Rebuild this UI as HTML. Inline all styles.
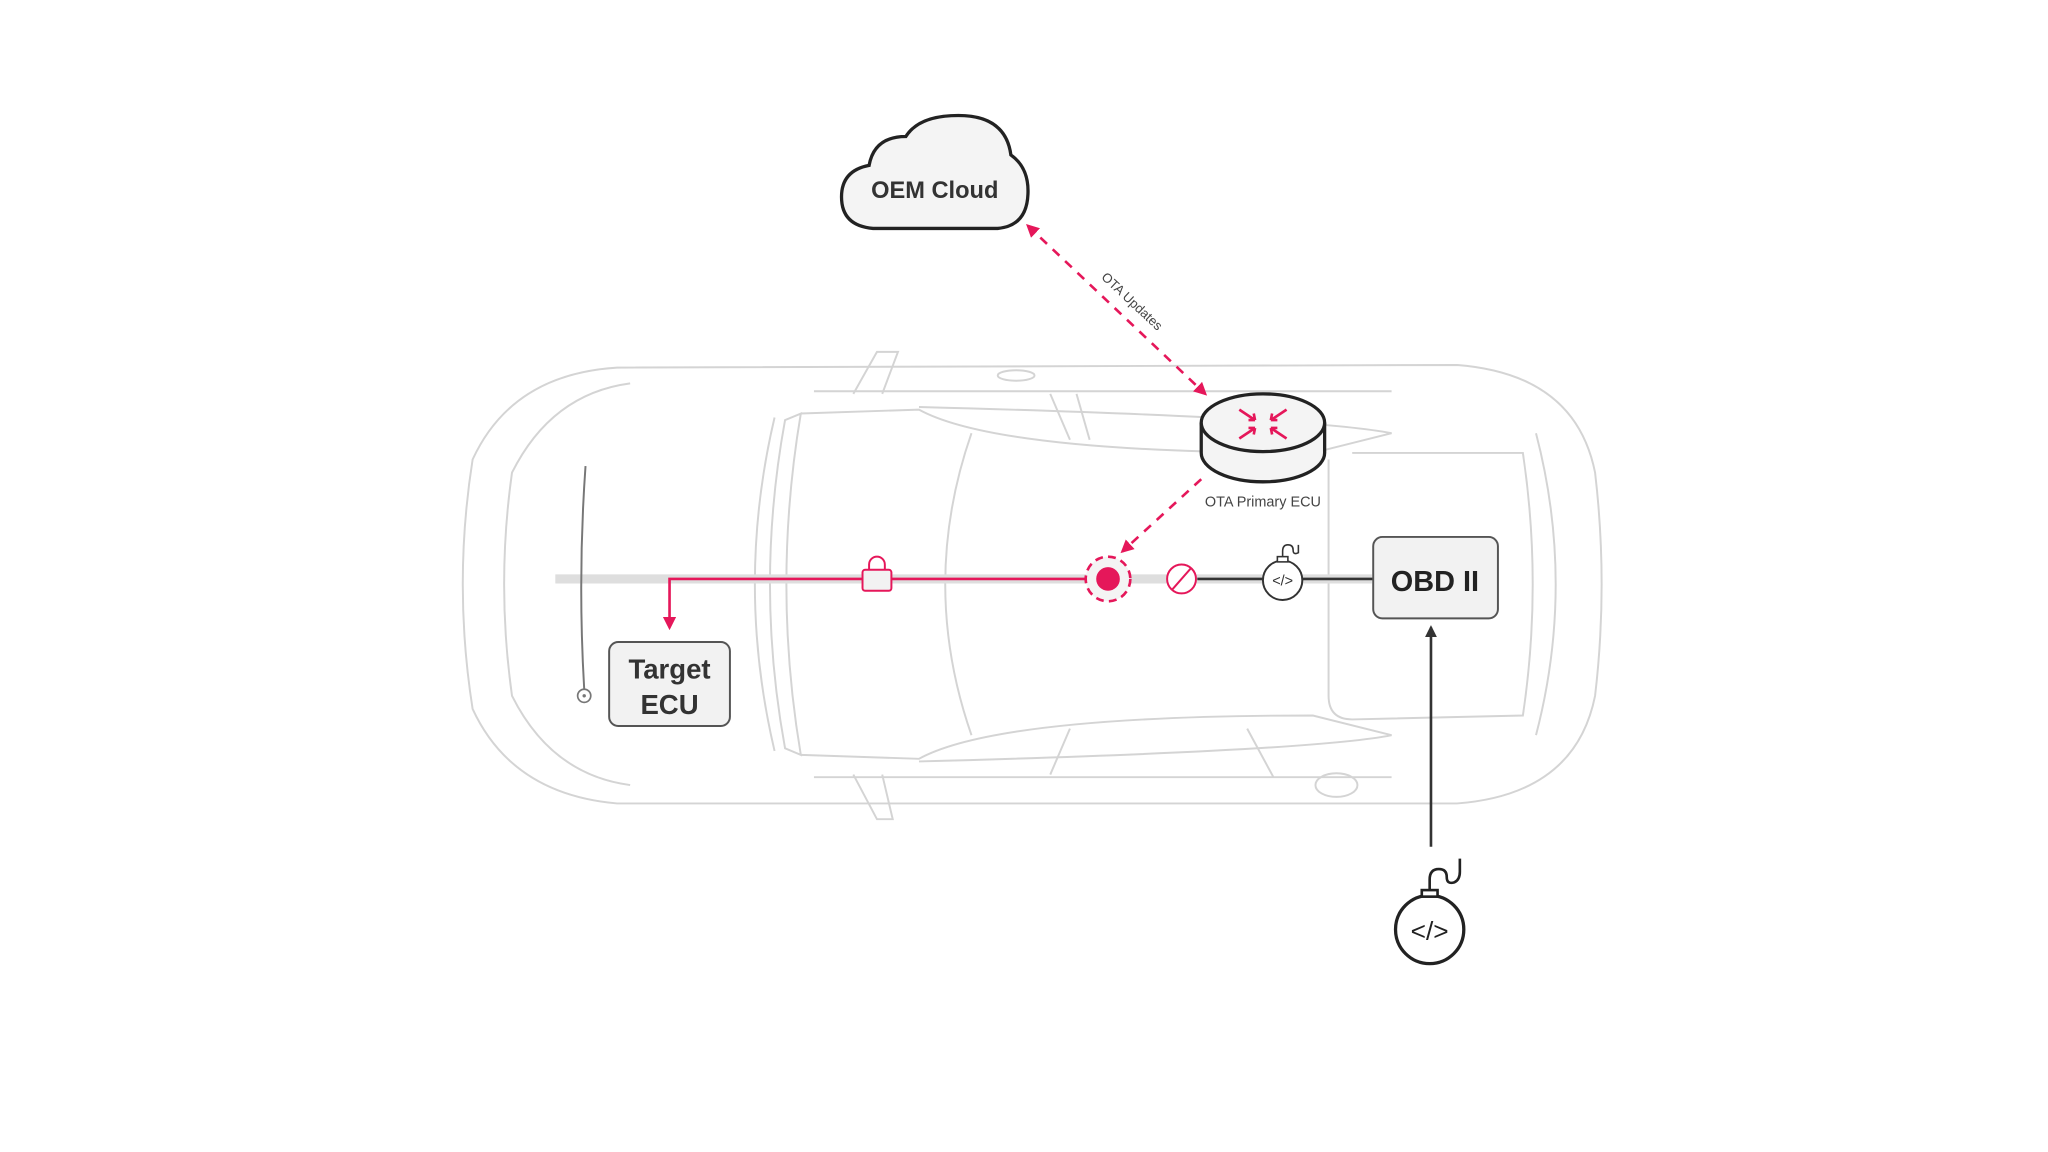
<!DOCTYPE html>
<html><head><meta charset="utf-8"><style>
html,body{margin:0;padding:0;background:#fff;}
svg{display:block;}
text{font-family:"Liberation Sans",sans-serif;}
</style></head><body>
<svg width="2048" height="1152" viewBox="0 0 1560 877.5" xmlns="http://www.w3.org/2000/svg">
<defs>
<marker id="ar" viewBox="0 0 10 10" refX="8" refY="5" markerWidth="5" markerHeight="5" orient="auto-start-reverse"><path d="M0,0L10,5L0,10z" fill="#e5175a"/></marker>
<marker id="ak" viewBox="0 0 10 10" refX="8" refY="5" markerWidth="4.5" markerHeight="4.5" orient="auto"><path d="M0,0L10,5L0,10z" fill="#333"/></marker>
</defs>
<rect width="1560" height="878" fill="#fff"/>
<g fill="none" stroke="#d4d4d4" stroke-width="1.5">
<path d="M470,280 L1110,278 Q1200,285 1215,360 Q1225,445 1215,530 Q1200,605 1110,612 L470,612 Q390,605 360,540 Q345,445 360,350 Q390,285 470,280Z"/>
<path d="M480,292 Q420,300 390,360 Q378,445 390,530 Q420,590 480,598"/>
<path d="M590,318 Q560,445 590,572"/>
<path d="M610,315 L700,312 Q760,345 1000,345 L1060,330 Q1000,318 700,310"/>
<path d="M610,575 L700,578 Q760,545 1000,545 L1060,560 Q1000,572 700,580"/>
<path d="M598,320 Q575,445 598,570 L610,575 Q588,445 610,315Z"/>
<path d="M740,330 Q700,445 740,560"/>
<path d="M1012,350 L1012,530 Q1012,548 1030,548 L1160,545 Q1175,445 1160,345 L1030,345"/>
<path d="M1170,330 Q1200,445 1170,560"/>
<path d="M620,298 L1060,298"/><path d="M620,592 L1060,592"/>
<path d="M650,300 L668,268 L684,268 L672,300"/>
<path d="M650,590 L668,624 L680,624 L672,590"/>
<path d="M760,286 a14,4 0 1,0 28,0 a14,4 0 1,0 -28,0"/>
<path d="M1002,598 a16,9 0 1,0 32,0 a16,9 0 1,0 -32,0"/>
<path d="M800,300 L815,335"/><path d="M820,300 L830,335"/>
<path d="M800,590 L815,555"/><path d="M950,555 L970,592"/>
</g>
<line x1="423" y1="441" x2="1045" y2="441" stroke="#dedede" stroke-width="7"/>
<polyline points="828,441 510,441 510,478" fill="none" stroke="#e5175a" stroke-width="2" marker-end="url(#ar)"/>
<line x1="912" y1="441" x2="1046" y2="441" stroke="#333" stroke-width="2"/>
<rect x="657" y="434" width="22" height="16" rx="2" fill="#f2f2f2" stroke="#e5175a" stroke-width="1.5"/>
<path d="M662,434 v-4 a6,6 0 0,1 12,0 v4" fill="none" stroke="#e5175a" stroke-width="1.5"/>
<circle cx="844" cy="441" r="17" fill="#f4f4f4" stroke="#e5175a" stroke-width="2" stroke-dasharray="6,4"/>
<circle cx="844" cy="441" r="9" fill="#e5175a"/>
<circle cx="900" cy="441" r="11" fill="#fff" stroke="#e5175a" stroke-width="1.5"/>
<line x1="893" y1="449" x2="907" y2="433" stroke="#e5175a" stroke-width="1.5"/>
<circle cx="977" cy="442" r="15" fill="#fff" stroke="#333" stroke-width="1.5"/>
<rect x="973" y="424" width="8" height="4" fill="#fff" stroke="#333" stroke-width="1.2"/>
<path d="M977,424 v-4 q0,-5 4,-5 q4,0 4,4 q0,4 4,2 v-6" fill="none" stroke="#333" stroke-width="1.2"/>
<text x="977" y="446" font-size="11" text-anchor="middle" fill="#333">&lt;/&gt;</text>
<rect x="1046" y="409" width="95" height="62" rx="7" fill="#f2f2f2" stroke="#555" stroke-width="1.5"/>
<text x="1093" y="450" font-size="22" font-weight="bold" text-anchor="middle" fill="#222">OBD II</text>
<line x1="1090" y1="645" x2="1090" y2="478" stroke="#333" stroke-width="2" marker-end="url(#ak)"/>
<circle cx="1089" cy="708" r="26" fill="#fff" stroke="#222" stroke-width="2.5"/>
<rect x="1083" y="678" width="12" height="5" fill="#fff" stroke="#222" stroke-width="2"/>
<path d="M1089,678 v-8 q0,-8 7,-8 q6,0 6,6 q0,6 6,4 q4,-2 4,-8 v-10" fill="none" stroke="#222" stroke-width="2"/>
<text x="1089" y="716" font-size="20" text-anchor="middle" fill="#222">&lt;/&gt;</text>
<rect x="464" y="489" width="92" height="64" rx="7" fill="#f2f2f2" stroke="#555" stroke-width="1.5"/>
<text x="510" y="517" font-size="21" font-weight="bold" text-anchor="middle" fill="#333">Target</text>
<text x="510" y="544" font-size="21" font-weight="bold" text-anchor="middle" fill="#333">ECU</text>
<path d="M446,355 Q440,440 445,525" fill="none" stroke="#777" stroke-width="1.5"/>
<circle cx="445" cy="530" r="5" fill="#fff" stroke="#777" stroke-width="1.3"/>
<circle cx="445" cy="530" r="1.3" fill="#777"/>
<path d="M665,174 Q641,172 641,150 Q641,130 662,126 Q666,104 690,104 Q700,88 730,88 Q766,88 770,118 Q784,128 783,148 Q782,172 760,174 Z" fill="#f4f4f4" stroke="#222" stroke-width="2.5"/>
<text x="712" y="151" font-size="18" font-weight="bold" text-anchor="middle" fill="#333">OEM Cloud</text>
<line x1="783" y1="172" x2="918" y2="300" stroke="#e5175a" stroke-width="2" stroke-dasharray="7,6" marker-start="url(#ar)" marker-end="url(#ar)"/>
<text x="860" y="232" font-size="10" fill="#444" text-anchor="middle" transform="rotate(43 860 232)">OTA Updates</text>
<path d="M915,322 v23 a47,22 0 0,0 94,0 v-23" fill="#f4f4f4" stroke="#222" stroke-width="2.5"/>
<ellipse cx="962" cy="322" rx="47" ry="22" fill="#f4f4f4" stroke="#222" stroke-width="2.5"/>
<g stroke="#e5175a" stroke-width="2" fill="none">
<path d="M944,312 l12,8 M956,320 h-5 M956,320 l-1,-5"/>
<path d="M980,312 l-12,8 M968,320 h5 M968,320 l1,-5"/>
<path d="M944,334 l12,-8 M956,326 h-5 M956,326 l-1,5"/>
<path d="M980,334 l-12,-8 M968,326 h5 M968,326 l1,5"/>
</g>
<text x="962" y="386" font-size="11" text-anchor="middle" fill="#444">OTA Primary ECU</text>
<line x1="915" y1="365" x2="855" y2="420" stroke="#e5175a" stroke-width="2" stroke-dasharray="7,6" marker-end="url(#ar)"/>
</svg>
</body></html>
